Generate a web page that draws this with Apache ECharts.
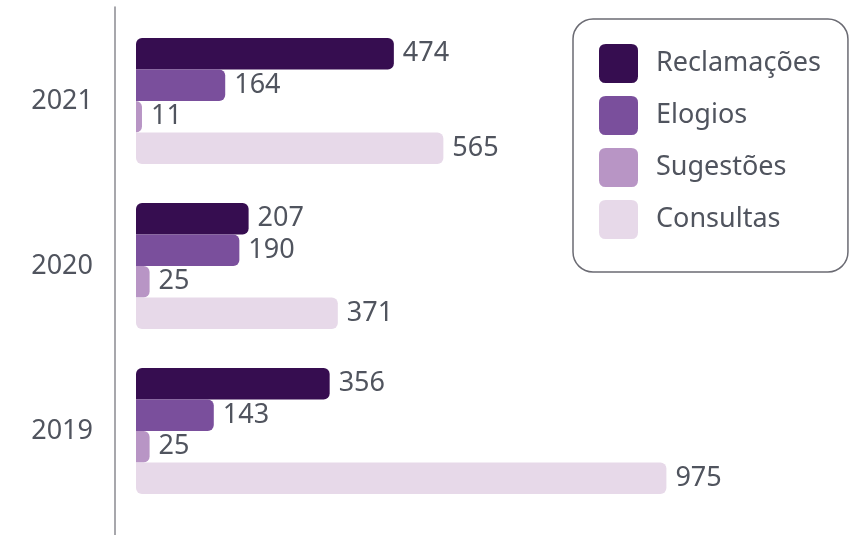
<!DOCTYPE html>
<html>
<head>
<meta charset="utf-8">
<script src="https://cdn.jsdelivr.net/npm/echarts@6/dist/echarts.min.js"></script>
<style>
  html, body { margin: 0; padding: 0; background: #ffffff; }
  #chart { width: 852px; height: 535px; }
</style>
</head>
<body>
<div id="chart"></div>
<script>
// Atendimentos por ano e tipo
const years = ['2021', '2020', '2019'];
const seriesNames = ['Reclamações', 'Elogios', 'Sugestões', 'Consultas'];
const reclamacoes = [474, 207, 356];
const elogios = [164, 190, 143];
const sugestoes = [11, 25, 25];
const consultas = [565, 371, 975];

const colors = ['#360d50', '#7a4f9c', '#b895c5', '#e7d9e9'];
const textColor = '#50545e';
const fontFamily = '"Noto Sans", "Open Sans", sans-serif';
const fontSize = 27;
const values = [reclamacoes, elogios, sugestoes, consultas];
// corner radii per bar: outer bars of each group are rounded on the left as well
const radii = [[6, 6, 6, 0], [0, 6, 6, 0], [0, 6, 6, 0], [0, 6, 6, 6]];

const roundSquare = 'path://M7,0 H33 Q40,0 40,7 V33 Q40,40 33,40 H7 Q0,40 0,33 V7 Q0,0 7,0 Z';

const chart = echarts.init(document.getElementById('chart'), null, { renderer: 'canvas' });

chart.setOption({
  animation: false,
  backgroundColor: '#ffffff',
  textStyle: { fontFamily: fontFamily },
  grid: [
    { left: 136, top: 18.5, height: 495, width: 544 },
    { left: 115, top: 7, bottom: 0, width: 10 }
  ],
  legend: {
    orient: 'vertical',
    left: 573,
    top: 19,
    padding: [25, 27, 33, 26],
    itemWidth: 39,
    itemHeight: 39,
    itemGap: 13,
    icon: roundSquare,
    borderColor: '#6b6b73',
    borderWidth: 1.5,
    borderRadius: 20,
    textStyle: {
      color: textColor,
      fontSize: fontSize,
      fontFamily: fontFamily,
      padding: [0, 0, 0, 13]
    },
    data: seriesNames
  },
  xAxis: [
    { type: 'value', gridIndex: 0, min: 0, max: 1000, show: false },
    { type: 'value', gridIndex: 1, show: false }
  ],
  yAxis: [
    {
      type: 'category',
      gridIndex: 0,
      data: years,
      inverse: true,
      offset: 21,
      axisLine: { show: false },
      axisTick: { show: false },
      axisLabel: {
        margin: 22,
        color: textColor,
        fontSize: fontSize,
        fontFamily: fontFamily
      }
    },
    {
      // vertical rule beside the year labels
      type: 'value',
      gridIndex: 1,
      axisLine: { show: true, lineStyle: { color: '#8a8a90', width: 1.5 } },
      axisTick: { show: false },
      axisLabel: { show: false },
      splitLine: { show: false }
    }
  ],
  series: seriesNames.map((name, i) => ({
    name: name,
    type: 'bar',
    xAxisIndex: 0,
    yAxisIndex: 0,
    data: values[i],
    barWidth: 31.5,
    barGap: '0%',
    itemStyle: { color: colors[i], borderRadius: radii[i] },
    label: {
      show: true,
      position: 'right',
      distance: 9,
      color: textColor,
      fontSize: fontSize,
      fontFamily: fontFamily
    }
  }))
});
</script>
</body>
</html>
